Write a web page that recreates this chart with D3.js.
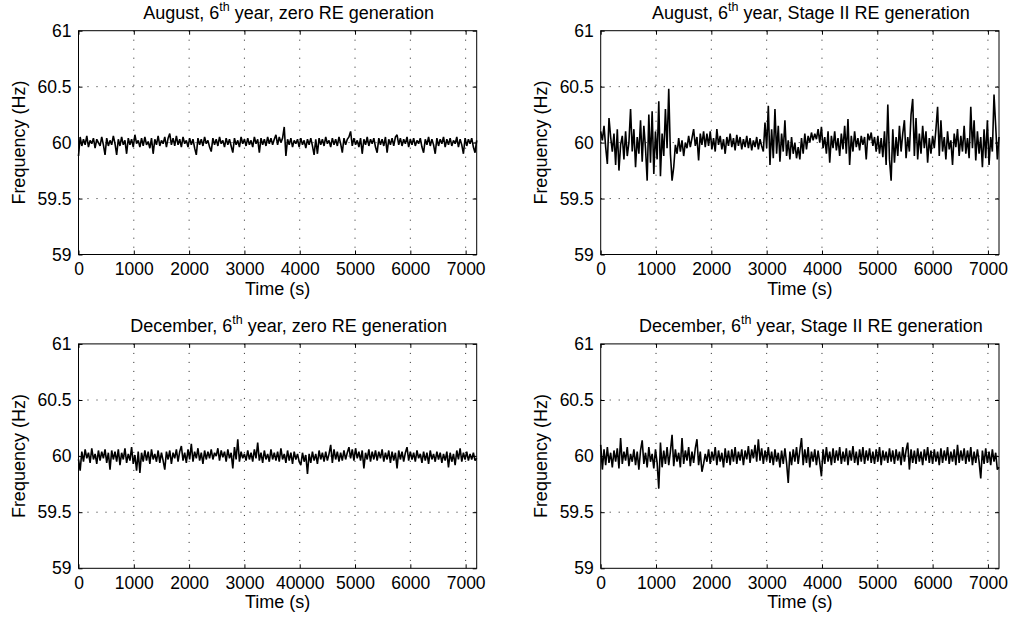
<!DOCTYPE html>
<html><head><meta charset="utf-8">
<script src="https://cdn.jsdelivr.net/npm/d3@7"></script>
<style>
body{margin:0;background:#fff}
svg{display:block}
text{font-family:"Liberation Sans",Arial,Helvetica,sans-serif;fill:#000}
</style></head>
<body><svg id="chart" width="1013" height="622"></svg>
<script>
// ---- data (Hz), one sample every 30 s from 0 to 7200 s ----
const augustZeroRE = [
59.88,60.05,59.97,60.03,59.98,60.06,59.96,60.02,59.99,60.04,59.95,60.03,60.00,59.97,60.05,59.98,59.89,60.04,59.97,60.02,
59.98,60.06,59.99,59.89,60.03,59.97,60.05,59.98,60.02,59.90,60.04,59.98,60.03,59.96,60.07,59.99,60.02,59.96,60.04,59.97,
60.05,59.98,60.01,59.95,60.04,59.90,60.03,59.98,60.06,59.97,60.02,59.99,60.05,59.96,60.04,60.08,59.98,60.04,59.97,60.06,
59.98,60.03,59.96,60.05,59.99,60.02,59.96,60.04,59.98,60.03,59.95,59.89,60.04,59.98,60.03,59.97,60.05,59.99,60.02,59.96,
59.92,60.04,59.98,60.03,59.97,60.05,59.99,60.02,59.96,60.04,59.98,60.03,59.97,59.91,60.04,59.98,60.02,59.96,60.05,59.99,
60.03,59.97,60.04,59.98,60.02,59.96,60.05,59.99,60.03,59.91,60.04,59.98,60.03,59.97,60.05,59.99,60.04,59.98,60.03,60.07,
59.98,60.05,60.00,60.04,60.14,59.88,60.03,59.98,60.04,59.96,60.02,59.99,60.03,59.96,60.04,59.98,60.02,59.95,60.03,59.98,
60.04,59.97,59.89,60.03,59.90,60.04,59.98,60.03,59.97,60.05,59.99,60.02,59.96,60.04,59.98,60.03,59.97,60.05,59.99,59.91,
60.04,59.98,60.03,60.05,60.10,59.97,60.04,59.98,60.02,59.96,60.04,59.90,60.03,59.98,60.05,59.97,60.03,59.99,60.04,59.96,
59.91,60.04,59.98,60.03,59.97,60.05,59.91,60.03,59.98,60.04,59.97,60.05,60.07,59.98,60.04,59.97,60.03,59.99,60.05,59.96,
60.03,59.98,60.04,59.97,60.02,59.99,60.04,59.96,59.91,60.03,59.98,60.05,59.97,60.03,59.98,59.90,60.04,59.97,60.03,59.99,
60.05,59.96,60.03,59.98,60.04,59.97,60.02,59.99,60.05,59.96,60.03,59.98,59.90,60.04,59.97,60.03,59.99,60.04,59.96,59.91,
60.02];

const augustStageII = [
60.10,60.02,60.15,59.96,59.81,60.22,60.05,59.92,60.08,59.80,60.12,59.75,59.98,60.06,59.85,60.10,59.88,60.00,60.30,59.92,
60.12,59.78,60.05,59.90,60.20,59.83,60.15,59.95,59.66,60.25,59.82,60.28,59.72,60.10,59.85,60.37,59.70,60.08,59.88,60.30,
59.95,60.48,59.90,59.66,59.78,59.98,59.90,60.04,59.92,60.02,59.88,60.00,59.95,60.06,59.96,60.04,60.12,59.97,60.05,59.84,
60.08,59.98,60.10,59.96,60.08,59.97,60.10,59.94,60.04,59.92,60.12,59.98,60.06,59.94,60.03,59.90,60.05,59.97,60.08,59.96,
60.04,59.93,60.07,59.97,60.05,59.94,60.03,59.96,60.06,59.95,60.04,59.93,60.02,59.96,60.05,59.94,60.03,59.97,59.92,60.18,
59.95,60.33,59.80,60.12,59.86,60.30,59.90,60.15,59.83,60.08,59.92,60.20,59.88,60.02,59.85,60.05,59.90,60.00,59.86,59.96,
59.85,60.04,59.90,60.08,59.94,60.06,60.00,60.09,60.02,60.08,60.03,60.12,60.00,60.14,59.95,60.05,59.90,60.10,59.82,60.06,
59.95,60.10,59.93,60.04,59.88,60.08,59.94,60.15,59.90,60.21,59.80,60.06,59.92,60.10,59.96,60.04,59.93,60.06,59.98,60.05,
59.85,60.08,60.02,60.09,59.97,60.05,59.92,60.06,59.90,60.04,59.87,60.10,59.80,60.34,59.85,59.66,60.12,59.82,60.05,59.88,
60.15,59.92,60.08,60.20,59.86,60.05,59.92,60.25,60.39,59.88,60.22,59.85,60.08,59.90,60.15,59.95,60.10,59.82,60.04,59.90,
60.06,59.95,60.12,60.32,59.88,60.20,59.92,60.05,59.85,60.10,59.94,60.02,59.80,60.08,59.96,60.12,59.88,60.06,59.92,60.15,
59.90,60.04,59.86,60.32,59.95,60.20,59.84,60.10,59.90,60.05,59.78,60.12,59.86,60.20,59.80,60.05,59.92,60.43,60.15,59.85,
60.05];

const decemberZeroRE = [
59.97,59.87,60.04,59.95,60.06,59.98,60.03,59.94,60.07,59.97,60.02,59.93,60.05,59.96,60.04,59.98,60.06,59.94,60.03,59.88,
60.05,59.97,60.04,59.95,60.06,59.92,60.03,59.97,60.07,59.94,60.02,59.96,60.08,59.93,60.01,59.87,60.04,59.85,60.03,59.95,
60.05,59.96,60.04,59.93,60.06,59.97,60.02,59.95,60.05,59.94,60.03,59.96,59.88,60.04,59.97,60.05,59.93,60.03,59.98,60.06,
59.95,60.04,60.09,59.96,60.03,59.94,60.06,59.97,60.11,59.95,60.04,59.98,60.07,59.96,60.03,59.93,60.05,59.97,60.04,59.98,
60.06,59.97,60.03,60.00,60.07,59.96,60.05,59.99,60.04,59.95,60.06,59.98,60.03,59.89,60.08,59.97,60.15,59.95,60.04,59.98,
60.02,59.96,60.05,59.97,60.03,59.95,60.06,59.98,60.12,59.96,60.03,59.94,60.05,59.97,60.02,59.95,60.06,59.97,60.03,59.96,
60.04,59.95,60.07,59.97,60.02,59.94,60.05,59.96,60.03,59.93,60.04,59.97,60.02,59.95,59.92,60.03,59.95,60.01,59.84,60.02,
59.94,60.04,59.96,60.02,59.93,60.05,59.97,60.03,59.95,60.04,59.96,60.02,60.10,59.94,60.06,59.97,60.04,59.95,60.03,59.96,
60.05,59.97,60.03,60.08,59.98,60.06,59.96,60.07,59.98,60.04,59.96,60.05,59.89,60.03,59.97,60.06,59.95,60.04,59.97,60.05,
59.96,60.04,59.98,60.06,59.95,60.03,59.97,60.05,59.94,60.04,59.96,60.03,59.89,60.05,59.97,60.04,59.95,60.03,60.08,59.96,
60.04,59.97,60.03,59.95,60.05,59.98,60.02,59.94,60.04,59.96,60.03,59.93,60.05,59.97,60.02,59.95,60.04,59.97,60.03,59.94,
60.02,59.96,60.04,59.90,60.03,59.95,60.02,59.92,60.05,59.97,60.07,59.95,60.03,59.97,60.04,59.96,60.02,59.97,60.03,59.96,
59.98];

const decemberStageII = [
60.10,59.88,60.06,59.92,60.08,59.94,60.03,59.90,60.05,59.95,60.07,59.89,60.16,59.93,60.04,59.96,60.08,59.91,60.02,59.95,
60.06,59.92,60.04,59.88,60.05,60.14,59.93,60.03,59.90,60.08,59.95,60.02,59.89,60.06,59.94,59.71,60.12,59.90,60.05,59.93,
60.08,59.92,60.04,60.19,59.91,60.06,59.95,60.03,59.90,60.16,59.93,60.05,59.96,60.08,59.91,60.04,59.94,60.07,60.15,59.92,
60.04,59.86,59.93,60.02,59.95,60.06,59.93,60.04,59.96,60.08,59.92,60.05,59.95,60.03,59.90,60.07,59.94,60.05,59.92,60.06,
59.95,60.08,59.93,60.04,59.96,60.06,59.92,60.05,59.97,60.09,59.94,60.06,59.98,60.10,59.95,60.15,59.96,60.07,59.93,60.05,
59.96,60.08,59.94,60.04,59.92,60.06,59.95,60.03,59.90,60.05,59.93,60.07,59.94,59.76,60.04,59.92,60.06,59.95,60.08,59.93,
60.05,60.16,59.92,60.06,59.94,60.08,59.90,60.04,59.95,60.06,59.92,60.05,59.94,59.82,60.06,59.93,60.08,59.95,60.04,59.92,
60.07,59.94,60.05,59.96,60.08,59.93,60.04,59.95,60.07,59.92,60.05,59.96,60.09,59.94,60.04,59.92,60.06,59.95,60.08,59.93,
60.05,59.96,60.07,59.94,60.04,59.93,60.06,59.95,60.08,59.92,60.05,59.96,60.04,59.94,60.07,59.95,60.05,59.93,60.06,59.96,
60.04,59.92,60.08,59.95,60.05,60.12,59.88,60.06,59.94,60.05,59.93,60.07,59.95,60.04,59.92,60.06,59.96,60.08,59.94,60.05,
59.93,60.06,59.95,60.04,59.92,60.07,59.94,60.05,59.96,60.08,59.93,60.04,59.95,60.06,59.92,60.10,59.94,60.05,59.96,60.07,
59.93,60.05,59.95,60.08,59.92,60.04,59.94,60.06,59.95,59.80,60.05,59.93,60.07,59.94,60.04,59.92,60.06,59.95,60.03,59.88,
59.90];

const sampleStep = 30; // seconds between samples
const xTickValues = [0,1000,2000,3000,4000,5000,6000,7000];
const xTickLabels = ["0","1000","2000","3000","4000","5000","6000","7000"];
const xTickLabelsDecZero = ["0","1000","2000","3000","40000","5000","6000","7000"];
const yTickValues = [59,59.5,60,60.5,61];
const yTickLabels = ["59","59.5","60","60.5","61"];
const titles = [
  ["August, 6","th"," year, zero RE generation"],
  ["August, 6","th"," year, Stage II RE generation"],
  ["December, 6","th"," year, zero RE generation"],
  ["December, 6","th"," year, Stage II RE generation"]
];
const xAxisLabel = "Time (s)";
const yAxisLabel = "Frequency (Hz)";

// ---- layout ----
const panels = [
  {data: augustZeroRE,    title: titles[0], xl: xTickLabels,       left: 78.5,  right: 476.7, top: 30.7,  bottom: 254.5},
  {data: augustStageII,   title: titles[1], xl: xTickLabels,       left: 600.7, right: 999,   top: 30.7,  bottom: 254.5},
  {data: decemberZeroRE,  title: titles[2], xl: xTickLabelsDecZero,left: 78.5,  right: 476.7, top: 343.9, bottom: 568.3},
  {data: decemberStageII, title: titles[3], xl: xTickLabels,       left: 600.7, right: 999,   top: 343.9, bottom: 568.3}
];

const svg = d3.select("#chart");
svg.append("rect").attr("width",1013).attr("height",622).attr("fill","#fff");

panels.forEach(p => {
  const w = p.right - p.left, h = p.bottom - p.top;
  const x = d3.scaleLinear().domain([0, 7200]).range([0, w]);
  const y = d3.scaleLinear().domain([59, 61]).range([h, 0]);
  const g = svg.append("g").attr("transform", `translate(${p.left},${p.top})`);

  // grid
  const gridStyle = s => s.attr("stroke", "#222").attr("stroke-width", 1).attr("stroke-dasharray", "1,8");
  g.append("g").selectAll("line").data(xTickValues.filter(v => v > 0)).join("line")
    .attr("x1", d => x(d)).attr("x2", d => x(d)).attr("y1", 0).attr("y2", h).call(gridStyle);
  g.append("g").selectAll("line").data(yTickValues.filter(v => v > 59 && v < 61)).join("line")
    .attr("x1", 0).attr("x2", w).attr("y1", d => y(d)).attr("y2", d => y(d)).call(gridStyle);

  // data line
  const line = d3.line().x((d, i) => x(i * sampleStep)).y(d => y(d));
  g.append("path").datum(p.data).attr("d", line)
    .attr("fill", "none").attr("stroke", "#000").attr("stroke-width", 1.6)
    .attr("stroke-linejoin", "miter").attr("stroke-miterlimit", 2);

  // axes (ticks point inward)
  const ax = [
    g.append("g").attr("transform", `translate(0,${h})`)
      .call(d3.axisBottom(x).tickValues(xTickValues).tickFormat((d, i) => p.xl[i]).tickSizeInner(-4).tickSizeOuter(0).tickPadding(8)),
    g.append("g")
      .call(d3.axisTop(x).tickValues(xTickValues).tickFormat("").tickSizeInner(-4).tickSizeOuter(0)),
    g.append("g")
      .call(d3.axisLeft(y).tickValues(yTickValues).tickFormat((d, i) => yTickLabels[i]).tickSizeInner(-4).tickSizeOuter(0).tickPadding(7)),
    g.append("g").attr("transform", `translate(${w},0)`)
      .call(d3.axisRight(y).tickValues(yTickValues).tickFormat("").tickSizeInner(-4).tickSizeOuter(0))
  ];
  ax.forEach(a => {
    a.select(".domain").remove();
    a.selectAll("line").attr("stroke", "#000");
    a.selectAll("text").attr("font-family", null).style("font-size", "17.5px").attr("fill", "#000");
  });

  // frame
  g.append("rect").attr("x", 0).attr("y", 0).attr("width", w).attr("height", h)
    .attr("fill", "none").attr("stroke", "#000").attr("stroke-width", 1);

  // title with superscript
  const t = svg.append("text").attr("x", (p.left + p.right) / 2 + 11).attr("y", p.top - 12)
    .attr("text-anchor", "middle").style("font-size", "18px");
  t.append("tspan").text(p.title[0]);
  t.append("tspan").attr("dy", -8).style("font-size", "12.5px").text(p.title[1]);
  t.append("tspan").attr("dy", 8).text(p.title[2]);

  // axis labels
  svg.append("text").attr("x", (p.left + p.right) / 2).attr("y", p.bottom + 40)
    .attr("text-anchor", "middle").style("font-size", "18px").text(xAxisLabel);
  svg.append("text").attr("transform", `translate(${p.left - 54},${(p.top + p.bottom) / 2}) rotate(-90)`)
    .attr("text-anchor", "middle").style("font-size", "18px").text(yAxisLabel);
});
</script></body></html>
